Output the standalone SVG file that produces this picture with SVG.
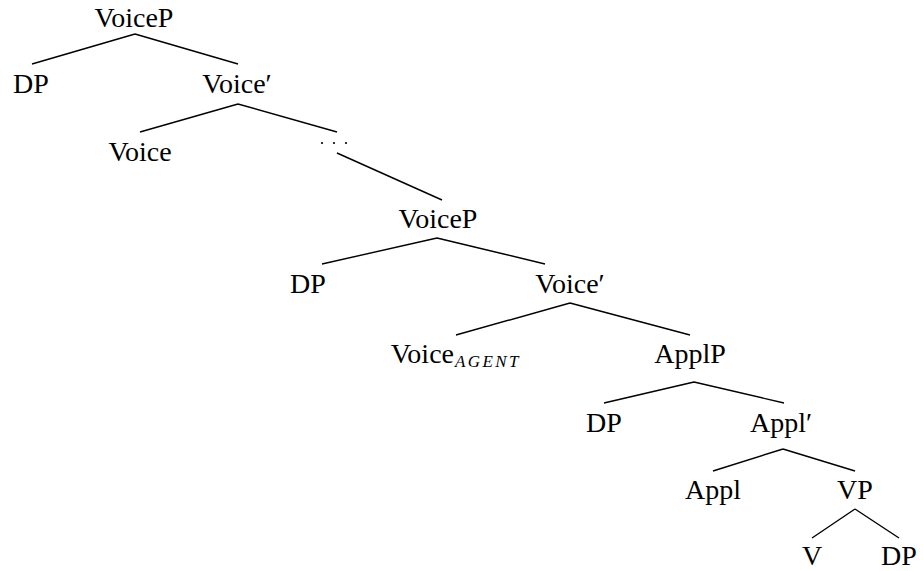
<svg xmlns="http://www.w3.org/2000/svg" width="923" height="571" viewBox="0 0 923 571">
  <style>
    .lbl { font-family: "Liberation Serif", "DejaVu Serif", serif; font-size: 28px; fill: #000; text-anchor: middle; }
    .sub { font-family: "Liberation Serif", "DejaVu Serif", serif; font-size: 17px; font-style: italic; letter-spacing: 2.4px; }
    .edge { stroke: #000; stroke-width: 1.4; fill: none; stroke-linecap: butt; }
    .dots { fill: #000; }
  </style>
  <rect width="923" height="571" fill="#fff"/>

  <!-- branches -->
  <g id="edges">
    <path class="edge" d="M135 34 L32 64 M135 34 L238 64"/>
    <path class="edge" d="M238 104 L140 132 M238 104 L337 132"/>
    <path class="edge" d="M337 153 L442 200"/>
    <path class="edge" d="M437 238 L322 264 M437 238 L545 264"/>
    <path class="edge" d="M570 303 L456 335 M570 303 L690 335"/>
    <path class="edge" d="M694 382 L604 403 M694 382 L784 403"/>
    <path class="edge" d="M783 449 L713 471 M783 449 L855 471"/>
    <path class="edge" d="M855 509 L812 538 M855 509 L899 538"/>
  </g>

  <!-- nodes -->
  <g id="n-voiceP-top"><text class="lbl" x="134" y="27">VoiceP</text></g>
  <g id="n-dp-1"><text class="lbl" x="31" y="93">DP</text></g>
  <g id="n-voicebar-1"><text class="lbl" x="237" y="93">Voice′</text></g>
  <g id="n-voice"><text class="lbl" x="140" y="161">Voice</text></g>
  <g id="n-ellipsis">
    <circle class="dots" cx="322" cy="143" r="1.1"/>
    <circle class="dots" cx="334" cy="143" r="1.1"/>
    <circle class="dots" cx="346" cy="143" r="1.1"/>
  </g>
  <g id="n-voiceP-low"><text class="lbl" x="438" y="228">VoiceP</text></g>
  <g id="n-dp-2"><text class="lbl" x="308" y="293">DP</text></g>
  <g id="n-voicebar-2"><text class="lbl" x="570" y="293">Voice′</text></g>
  <g id="n-voice-agent">
    <text class="lbl" x="454" y="363" style="text-anchor:end">Voice</text>
    <text class="sub" x="455" y="367">AGENT</text>
  </g>
  <g id="n-applP"><text class="lbl" x="690" y="363">ApplP</text></g>
  <g id="n-dp-3"><text class="lbl" x="604" y="432">DP</text></g>
  <g id="n-applbar"><text class="lbl" x="781" y="432">Appl′</text></g>
  <g id="n-appl"><text class="lbl" x="713" y="499">Appl</text></g>
  <g id="n-vp"><text class="lbl" x="855" y="499">VP</text></g>
  <g id="n-v"><text class="lbl" x="812" y="565">V</text></g>
  <g id="n-dp-4"><text class="lbl" x="899" y="565">DP</text></g>
</svg>
